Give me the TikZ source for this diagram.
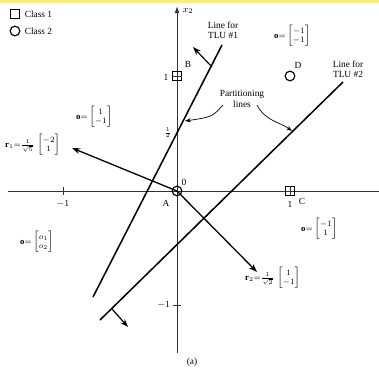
\documentclass[tikz,border=0pt]{standalone}
\usepackage{amsmath}
\usepackage{fontspec}
\setmainfont{Liberation Serif}
\usetikzlibrary{arrows.meta}
\begin{document}
\begin{tikzpicture}[x=0.03cm,y=-0.03cm,
  axis/.style={line width=0.8pt,black!80},
  partline/.style={line width=1.3pt},
  vec/.style={line width=1.1pt,-{Stealth[length=7pt,width=5pt]}},
  pointer/.style={line width=0.6pt,-{Stealth[length=5pt,width=3.5pt]}},
  lbl/.style={font=\fontsize{8}{8.5}\selectfont,inner sep=0.5pt,align=center},
  mlbl/.style={font=\fontsize{7.5}{8}\selectfont,inner sep=0pt,anchor=west},
  sqpt/.style={draw,line width=1.1pt,minimum size=0.27cm,inner sep=0pt},
  cirpt/.style={draw,circle,line width=1pt,minimum size=0.29cm,inner sep=0pt}]
\useasboundingbox (0,0) rectangle (379,372);
\fill[yellow!90!orange!60] (0,0) rectangle (379,3);
% legend
\node[sqpt] (leg1) at (15,14) {};
\node[lbl,anchor=west] (leg1t) at (24,14) {Class 1};
\node[cirpt] (leg2) at (15,31) {};
\node[lbl,anchor=west] (leg2t) at (24,31) {Class 2};
% axes
\coordinate (xl) at (8,191);
\coordinate (xr) at (379,191);
\coordinate (yb) at (177,353);
\coordinate (yt) at (177,6);
\draw[axis] (xl) -- (xr);
\draw[axis,-{Latex[length=6pt,width=4pt]}] (yb) -- (yt);
\node[lbl] (x2lab) at (188,11) {$x_2$};
% ticks
\coordinate (tx1a) at (63,187); \coordinate (tx1b) at (63,195);
\draw[axis] (tx1a) -- (tx1b);
\coordinate (ty1a) at (173,305); \coordinate (ty1b) at (181,305);
\draw[axis] (ty1a) -- (ty1b);
\node[lbl] (m1x) at (63,204) {$-1$};
\node[lbl,anchor=east] (m1y) at (171,305) {$-1$};
\node[lbl,anchor=east] (half) at (172,133) {\fontsize{6}{6}\selectfont$\tfrac{1}{2}$};
% points
\node[cirpt] (A) at (177,191) {};
\node[sqpt] (B) at (177,76) {};
\node[sqpt] (C) at (290,191) {};
\node[cirpt] (D) at (290,76) {};
\coordinate (bta) at (172,76); \coordinate (btb) at (182,76);
\draw[axis] (bta) -- (btb);
\coordinate (cta) at (290,186); \coordinate (ctb) at (290,196);
\draw[axis] (cta) -- (ctb);
\node[lbl] (Alab) at (166,203) {A};
\node[lbl] (zero) at (184,182) {0};
\node[lbl] (Blab) at (188,64) {B};
\node[lbl] (one1) at (166,77) {1};
\node[lbl] (Dlab) at (298,65) {D};
\node[lbl] (one2) at (290,204) {1};
\node[lbl] (Clab) at (302,201) {C};
% partitioning lines
\coordinate (t1a) at (222,45);
\coordinate (t1b) at (93,297);
\coordinate (t2a) at (343,82);
\coordinate (t2b) at (100,320);
\draw[partline] (t1a) -- (t1b);
\draw[partline] (t2a) -- (t2b);
% normals
\coordinate (n1a) at (212,67); \coordinate (n1b) at (193,47);
\coordinate (n2a) at (112,309); \coordinate (n2b) at (128,327);
\draw[vec,line width=1pt] (n1a) -- (n1b);
\draw[vec,line width=1pt] (n2a) -- (n2b);
% weight vectors
\coordinate (r1tip) at (72,148);
\coordinate (r2tip) at (257,272);
\draw[vec] (A.center) -- (r1tip);
\draw[vec] (A.center) -- (r2tip);
% labels
\node[lbl] (tlu1) at (223,30) {Line for\\TLU \#1};
\node[lbl] (tlu2) at (348,69) {Line for\\TLU \#2};
\node[lbl,font=\fontsize{8}{10}\selectfont] (partl) at (242,99) {Partitioning\\lines};
\coordinate (p1s) at (223,105);
\coordinate (p1e) at (185,121);
\coordinate (p2s) at (257,105);
\coordinate (p2e) at (292,131);
\draw[pointer] (p1s) .. controls (212,117) .. (p1e);
\draw[pointer] (p2s) .. controls (265,121) and (280,122) .. (p2e);
\node[mlbl] (o1) at (274,36) {$\mathbf{o}{=}\begin{bmatrix}-1\\-1\end{bmatrix}$};
\node[mlbl] (o2) at (76,117) {$\mathbf{o}{=}\begin{bmatrix}1\\-1\end{bmatrix}$};
\node[mlbl] (r1lab) at (5,145) {$\mathbf{r}_1{=}\tfrac{1}{\sqrt{5}}\,\begin{bmatrix}-2\\1\end{bmatrix}$};
\node[mlbl] (o3) at (20,242) {$\mathbf{o}{=}\begin{bmatrix}o_1\\o_2\end{bmatrix}$};
\node[mlbl] (o4) at (301,229) {$\mathbf{o}{=}\begin{bmatrix}-1\\1\end{bmatrix}$};
\node[mlbl] (r2lab) at (245,278) {$\mathbf{r}_2{=}\tfrac{1}{\sqrt{2}}\,\begin{bmatrix}1\\-1\end{bmatrix}$};
\node[lbl] (cap) at (192,362) {(a)};
\end{tikzpicture}
\end{document}
